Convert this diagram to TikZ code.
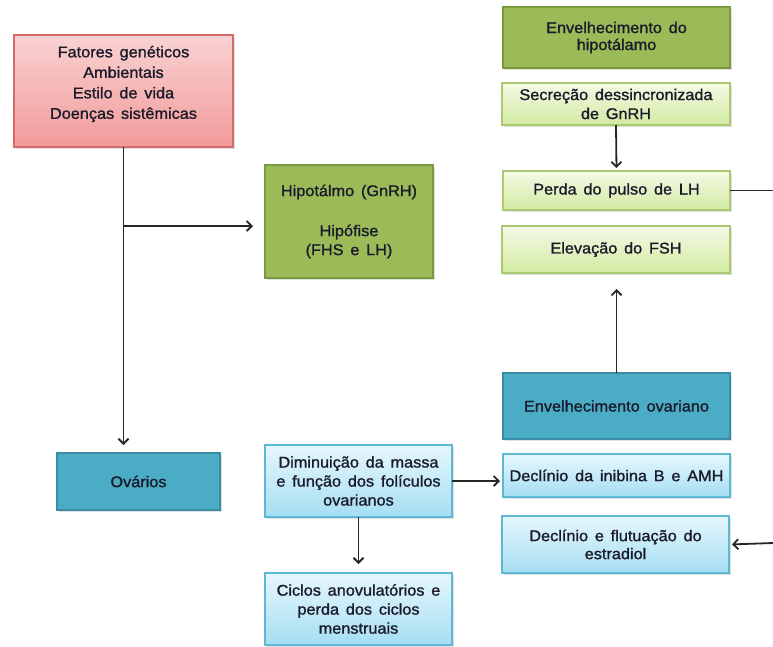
\documentclass[tikz,border=0pt]{standalone}
\usepackage{fontspec}
\setmainfont[FakeBold=1.2, FakeStretch=1.05, WordSpace=1.5]{Liberation Sans}
\usetikzlibrary{arrows.meta,shadows}
\definecolor{pinktop}{HTML}{F9D2D2}
\definecolor{pinkbot}{HTML}{F29A9A}
\definecolor{pinkborder}{HTML}{D46A6A}
\definecolor{olive}{HTML}{9BBB59}
\definecolor{oliveborder}{HTML}{7A9A40}
\definecolor{lgtop}{HTML}{F4FAE6}
\definecolor{lgbot}{HTML}{D3EAA2}
\definecolor{lgborder}{HTML}{A9C973}
\definecolor{teal}{HTML}{4BACC6}
\definecolor{tealborder}{HTML}{3A8CA3}
\definecolor{lbtop}{HTML}{E6F7FD}
\definecolor{lbbot}{HTML}{A6DEF2}
\definecolor{lbborder}{HTML}{5DB8D5}
\definecolor{txtcol}{HTML}{1A1A2A}
\begin{document}
\begin{tikzpicture}[x=1pt,y=-1pt,
  base/.style={draw, line width=1.3pt, align=center, inner sep=0pt, outer sep=0pt,
    text=txtcol, font=\fontsize{15.5}{19}\selectfont,
    drop shadow={opacity=0.25, shadow xshift=1.5pt, shadow yshift=-1.5pt}},
  pinkbox/.style={base, draw=pinkborder, top color=pinktop, bottom color=pinkbot},
  olivebox/.style={base, draw=oliveborder, fill=olive},
  lgbox/.style={base, draw=lgborder, top color=lgtop, bottom color=lgbot},
  tealbox/.style={base, draw=tealborder, fill=teal},
  lbbox/.style={base, draw=lbborder, top color=lbtop, bottom color=lbbot},
  txt/.style={align=center, inner sep=0pt, text=txtcol, font=\fontsize{15.5}{20.5}\selectfont},
  arr/.style={draw=black!85, line width=1.8pt, -{Straight Barb[length=5pt,width=10pt]}},
  ln/.style={draw=black!85, line width=1.8pt}
]
\useasboundingbox (0,0) rectangle (773,646);
\fill[white] (0,0) rectangle (773,646);

% left column
\node[pinkbox, minimum width=219pt, minimum height=112pt] (fat) at (123.5,91) {};
\node[txt] (fattxt) at (123.5,84) {Fatores genéticos\\Ambientais\\Estilo de vida\\Doenças sistêmicas};
\node[olivebox, minimum width=168pt, minimum height=113pt] (hipot) at (349,221.5)
  {Hipotálmo (GnRH)\\[21pt]Hipófise\\(FHS e LH)};
\node[tealbox, minimum width=163pt, minimum height=57pt] (ovar) at (138.5,481.5) {Ovários};
\node[lbbox, minimum width=187pt, minimum height=72pt] (dimin) at (358.5,481)
  {Diminuição da massa\\e função dos folículos\\ovarianos};
\node[lbbox, minimum width=187pt, minimum height=72pt] (ciclos) at (358.5,609)
  {Ciclos anovulatórios e\\perda dos ciclos\\menstruais};

% right column
\node[olivebox, minimum width=227pt, minimum height=61pt, font=\fontsize{15.5}{17}\selectfont] (envhip) at (616.5,37.5)
  {Envelhecimento do\\hipotálamo};
\node[lgbox, minimum width=228pt, minimum height=42pt] (sec) at (616,104)
  {Secreção dessincronizada\\de GnRH};
\node[lgbox, minimum width=227pt, minimum height=39pt] (perda) at (616.5,190.5) {Perda do pulso de LH};
\node[lgbox, minimum width=228pt, minimum height=47pt] (elev) at (616,249.5) {Elevação do FSH};
\node[tealbox, minimum width=227pt, minimum height=66pt] (envov) at (616.5,406) {Envelhecimento ovariano};
\node[lbbox, minimum width=227pt, minimum height=43pt] (declinib) at (616.5,475.5) {Declínio da inibina B e AMH};
\node[lbbox, minimum width=227pt, minimum height=57pt, font=\fontsize{15.5}{18}\selectfont] (declflut) at (615.5,544.5)
  {Declínio e flutuação do\\estradiol};

% connectors
\coordinate (br) at (123.5,226);
\coordinate (e1) at (773,190.5);
\coordinate (e2) at (773,543);
\draw[arr, shorten >=8pt] (fat.south) -- (fat.south |- ovar.north);
\draw[arr, shorten >=12pt] (br) -- (br -| hipot.west);
\draw[arr, shorten >=3pt] (sec.south) -- (perda.north);
\draw[ln] (perda.east) -- (e1);
\draw[arr, shorten >=3pt] (e2) -- (declflut.east);
\draw[arr, shorten >=16pt] (envov.north) -- (envov.north |- elev.south);
\draw[arr, shorten >=3pt] (dimin.east) -- (dimin.east -| declinib.west);
\draw[arr, shorten >=9pt] (dimin.south) -- (ciclos.north);
\end{tikzpicture}
\end{document}
